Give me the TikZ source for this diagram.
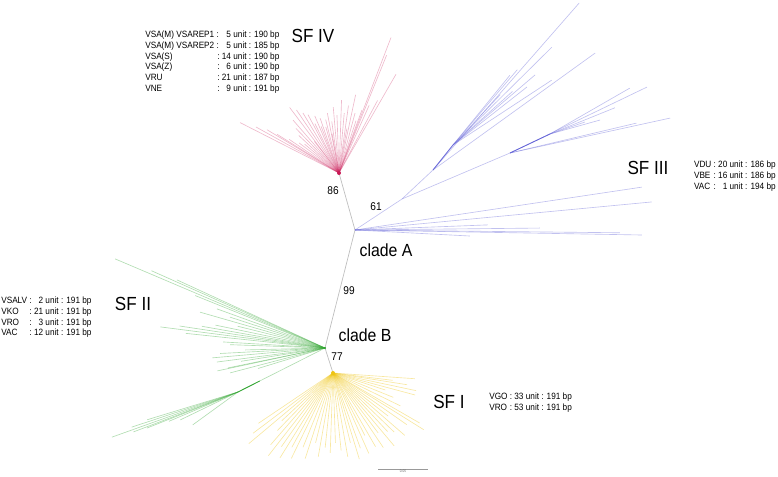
\documentclass[tikz,border=0pt]{standalone}
\usepackage{fontspec}
\setmainfont{Liberation Sans}[FakeStretch=0.9]
\usetikzlibrary{positioning, calc}

\definecolor{sfone}{RGB}{238,196,20}
\definecolor{sftwo}{RGB}{50,165,50}
\definecolor{sfthree}{RGB}{100,100,215}
\definecolor{sffour}{RGB}{200,25,85}

\begin{document}
\begin{tikzpicture}[
    x=0.025cm, y=0.025cm,
    trunk/.style={draw=black!25, line width=0.5pt},
    leafI/.style={draw=sfone, draw opacity=0.4, line width=0.45pt},
    leafII/.style={draw=sftwo, draw opacity=0.38, line width=0.45pt},
    leafIII/.style={draw=sfthree, draw opacity=0.4, line width=0.45pt},
    leafIV/.style={draw=sffour, draw opacity=0.3, line width=0.45pt},
    family/.style={font=\fontsize{13.5}{14}\selectfont, inner sep=0pt},
    clade/.style={font=\fontsize{12.5}{13}\selectfont, inner sep=0pt},
    boot/.style={font=\fontsize{8}{8}\selectfont, inner sep=0pt},
    info/.style={font=\fontsize{6.5}{7.6}\selectfont, inner sep=0pt, align=left, anchor=north west}
]
    \useasboundingbox (0,0) rectangle (778,-477);

    % Internal nodes
    \coordinate (hubIV) at (339,-173);
    \coordinate (cladeA) at (355,-230);
    \coordinate (hubII) at (325,-348);
    \coordinate (hubI) at (333,-373);
    \coordinate (nIIIa) at (402,-199);
    \coordinate (nIIIb) at (433,-170);
    \coordinate (nIIIc) at (453,-145);
    \coordinate (nIIId) at (510,-153);
    \coordinate (nIIIe) at (550,-134);
    \coordinate (nIIa) at (238,-392);

    % Backbone
    \draw[trunk] (hubIV) -- (cladeA) -- (hubII) -- (hubI);

    % SF IV
    \foreach \a/\l in {153/111, 151/95, 149/84, 148/73, 146/60, 143/50, 140/45, 137/55,
        134/62, 131/70, 127/82, 124/76, 121/70, 118/66, 116/55, 113/62, 111/50, 109/58,
        106/48, 104/55, 101/61, 98/52, 95/66, 92/58, 88/73, 85/60, 82/68, 78/80, 75/62,
        72/55, 70/67, 66/74, 62/82, 68/127, 69/145, 60/114, 128/40, 100/40, 80/45}
        \draw[leafIV] (hubIV) -- ++(\a:\l);
    \fill[sffour] (hubIV) circle (2);

    % SF III
    \draw[leafIII] (cladeA) -- (nIIIa) -- (nIIIb);
    \draw[sfthree, line width=0.6pt] (nIIIb) -- (nIIIc);
    \draw[leafIII] (nIIIa) -- (nIIId);
    \draw[sfthree, line width=0.6pt] (nIIId) -- (nIIIe);
    \foreach \a/\l in {48.8/222, 35.8/200}
        \draw[leafIII] (nIIIb) -- ++(\a:\l);
    \foreach \a/\l in {44.7/139, 49.5/99, 33.3/118, 38.1/94, 50.8/90, 46.8/69, 40.5/108, 42/80}
        \draw[leafIII] (nIIIc) -- ++(\a:\l);
    \foreach \a/\l in {25.7/152, 12.3/164, 13.3/130}
        \draw[leafIII] (nIIId) -- ++(\a:\l);
    \foreach \a/\l in {29.9/92, 18.9/37, 15.6/52, 22/70}
        \draw[leafIII] (nIIIe) -- ++(\a:\l);
    \foreach \a/\l in {8.5/290, 5.4/298, 2.2/133, -1.0/287, -0.6/265, 0.6/185, -3/115}
        \draw[leafIII] (cladeA) -- ++(\a:\l);

    % SF II
    \draw[leafII] (hubII) -- (nIIa);
    \draw[sftwo, line width=0.6pt] ($(nIIa)!0.25!(hubII)$) -- (nIIa);
    \foreach \a/\l in {157/228, 155.3/163, 160.1/115, 172.7/166, 171.4/147, 168.2/112,
        176.6/102, 181.4/80, 185/113, 187.4/109, 191.6/99, 194.7/98, 158/140, 156/190,
        162/100, 164/130, 166/90, 170/125, 174/140, 178/95, 183/105, 189/85, 192/110, 197/70}
        \draw[leafII] (hubII) -- ++(\a:\l);
    \foreach \a/\l in {199.7/134, 198.3/112, 200.9/112, 201.6/98, 216/56, 205.8/64, 203/75, 197/95}
        \draw[leafII] (nIIa) -- ++(\a:\l);
    \fill[sftwo] (hubII) circle (1.2);

    % SF I
    \foreach \a/\l in {-4/82, -7/60, -9/75, -12/85, -15/85, -18/55, -22/65, -26/75, -30/100,
        -32/107, -35/90, -38/70, -41/95, -44/85, -47/80, -50/95, -53/75, -56/90, -60/85,
        -63/70, -66/88, -70/80, -73/90, -76/72, -80/85, -84/78, -88/70, -92/80, -96/75,
        -100/85, -104/72, -108/90, -112/80, -116/95, -119/85, -122/100, -125/90, -128/105,
        -131/95, -134/80, -137/70, -140/110, -143/100, -146/90}
        \draw[leafI] (hubI) -- ++(\a:\l);
    \fill[sfone] (hubI) circle (2);

    % Labels
    \node[family] (sfIV) at (313,-36) {SF IV};
    \node[family] (sfIII) at (648,-168) {SF III};
    \node[family] (sfII) at (133,-304) {SF II};
    \node[family] (sfI) at (449,-402) {SF I};
    \node[clade] (lblA) at (386,-250) {clade A};
    \node[clade] (lblB) at (365,-335) {clade B};
    \node[boot] (b86) at (333,-191) {86};
    \node[boot] (b61) at (376,-207) {61};
    \node[boot] (b99) at (349,-291) {99};
    \node[boot] (b77) at (337,-357) {77};

    % Repeat counts
    \node[info] (infoIV) at (145,-30) {\begin{tabular}{@{}l@{ : }r@{ unit : }l@{}}
        VSA(M) VSAREP1 & 5 & 190 bp\\ VSA(M) VSAREP2 & 5 & 185 bp\\ VSA(S) & 14 & 190 bp\\
        VSA(Z) & 6 & 190 bp\\ VRU & 21 & 187 bp\\ VNE & 9 & 191 bp\end{tabular}};
    \node[info, anchor=north east] (infoIII) at (776,-160) {\begin{tabular}{@{}l@{ : }r@{ unit : }l@{}}
        VDU & 20 & 186 bp\\ VBE & 16 & 186 bp\\ VAC & 1 & 194 bp\end{tabular}};
    \node[info] (infoII) at (1,-296) {\begin{tabular}{@{}l@{ : }r@{ unit : }l@{}}
        VSALV & 2 & 191 bp\\ VKO & 21 & 191 bp\\ VRO & 3 & 191 bp\\ VAC & 12 & 191 bp\end{tabular}};
    \node[info] (infoI) at (489,-392) {\begin{tabular}{@{}l@{ : }r@{ unit : }l@{}}
        VGO & 33 & 191 bp\\ VRO & 53 & 191 bp\end{tabular}};

    % Scale bar
    \coordinate (bar0) at (378,-469);
    \coordinate (bar1) at (428,-469);
    \draw[black!40, line width=0.4pt] (bar0) -- (bar1) node[midway, below=0.5pt, font=\fontsize{2.5}{3}\selectfont, text=black!60, inner sep=0pt] {0.05};
\end{tikzpicture}
\end{document}
